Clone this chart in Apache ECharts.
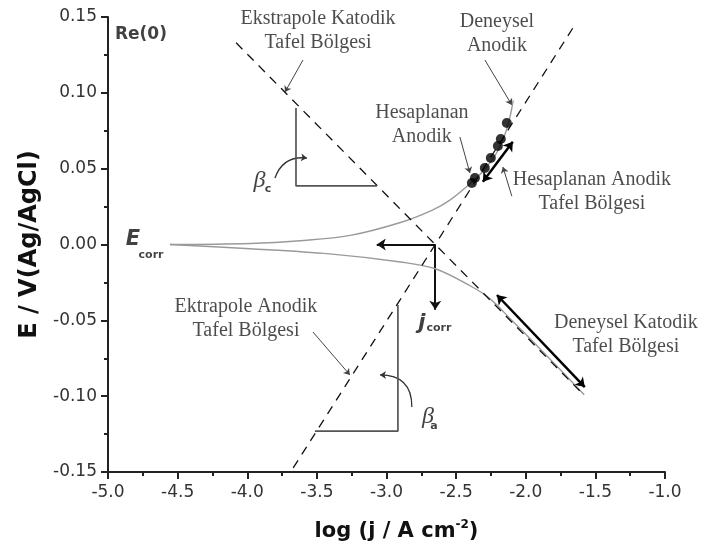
<!DOCTYPE html>
<html><head><meta charset="utf-8">
<script src="https://cdn.jsdelivr.net/npm/echarts@6/dist/echarts.min.js"></script>
<style>html,body{margin:0;padding:0;background:#fff}#c{width:703px;height:554px}</style>
</head><body><div id="c"></div>
<script>
// ---------- data ----------
const anodicBranch = [[-4.555,0.0],[-3.98,0.0007],[-3.62,0.0025],[-3.26,0.0060],[-2.90,0.0145],[-2.67,0.0227],[-2.545,0.0293],[-2.42,0.0386],[-2.30,0.049],[-2.20,0.062],[-2.13,0.078],[-2.09,0.095]];
const cathodicBranch = [[-4.555,0.0],[-3.98,-0.0028],[-3.41,-0.0062],[-2.90,-0.0115],[-2.65,-0.0160],[-2.40,-0.0272],[-2.26,-0.0355],[-2.10,-0.0500],[-1.90,-0.0685],[-1.58,-0.0990]];
const calculatedAnodicPoints = [[-2.387,0.0406],[-2.365,0.0439],[-2.294,0.0504],[-2.251,0.0570],[-2.200,0.0649],[-2.179,0.0696],[-2.136,0.0801]];
const cathodicTafelLine = [[-4.08,0.133],[-1.58,-0.0995]];
const anodicTafelLine = [[-3.67,-0.1473],[-1.66,0.1430]];
const betaCTriangle = [[-3.650,0.090],[-3.650,0.0386],[-3.069,0.0386]];
const betaATriangle = [[-3.514,-0.123],[-2.918,-0.123],[-2.918,-0.0399]];
const corrosionPoint = [-2.65, 0];
const ecorrArrowEnd = [-3.07, 0];
const jcorrArrowEnd = [-2.65, -0.043];
const anodicTafelRange = [[-2.308,0.0413],[-2.093,0.0677]];
const cathodicTafelRange = [[-2.207,-0.0333],[-1.576,-0.094]];
const pointerArrows = [
  [[-3.600,0.1216],[-3.729,0.1005]],
  [[-2.293,0.1216],[-2.100,0.0920]],
  [[-2.473,0.0709],[-2.401,0.0471]],
  [[-2.100,0.0319],[-2.164,0.0511]],
  [[-3.528,-0.0577],[-3.263,-0.0860]]
];
const betaCArc = [[-3.801,0.0438],[-3.571,0.0570]];
const betaAArc = [[-2.818,-0.1071],[-3.047,-0.0860]];

const annotationTexts = ['Ekstrapole Katodik\nTafel Bölgesi','Deneysel\nAnodik','Hesaplanan\nAnodik','Hesaplanan Anodik\nTafel Bölgesi','Deneysel Katodik\nTafel Bölgesi','Ektrapole Anodik\nTafel Bölgesi'];
const xTitle = ['log (j / A cm', '-2', ')'];
const yTitle = 'E / V(Ag/AgCl)';

// ---------- layout (anchor positions in data units) ----------
const annotationAnchors = [[-3.492,0.1411],[-2.207,0.1391],[-2.746,0.0788],[-1.525,0.0350],[-1.281,-0.0593],[-4.009,-0.0488]];

const serif = {fontFamily:'Liberation Serif', fontSize:20, lineHeight:24, color:'#1e1e1e'};
const sans = 'DejaVu Sans';

function lbl(pos, text, style) {
  return {value: pos, label: Object.assign({show:true, position:'inside', formatter:text, align:'center', verticalAlign:'middle'}, style)};
}
const labelItems = annotationTexts.map((t,i)=>lbl(annotationAnchors[i], t, serif));
labelItems.push(lbl([-4.95,0.1381],'Re(0)',{fontFamily:sans,fontWeight:'bold',fontSize:17,color:'#111',align:'left'}));
labelItems.push(lbl([-4.821,0.0030],'E',{fontFamily:sans,fontWeight:'bold',fontStyle:'italic',fontSize:21,color:'#111'}));
labelItems.push(lbl([-4.691,-0.0069],'corr',{fontFamily:sans,fontWeight:'bold',fontSize:11,color:'#111'}));
labelItems.push(lbl([-2.746,-0.0518],'j',{fontFamily:sans,fontWeight:'bold',fontStyle:'italic',fontSize:21,color:'#111'}));
labelItems.push(lbl([-2.624,-0.0551],'corr',{fontFamily:sans,fontWeight:'bold',fontSize:11,color:'#111'}));
labelItems.push(lbl([-3.913,0.0419],'β',{fontFamily:'Liberation Serif',fontStyle:'italic',fontSize:24,color:'#111'}));
labelItems.push(lbl([-3.851,0.0368],'c',{fontFamily:sans,fontWeight:'bold',fontSize:11,color:'#111'}));
labelItems.push(lbl([-2.703,-0.1134],'β',{fontFamily:'Liberation Serif',fontStyle:'italic',fontSize:24,color:'#111'}));
labelItems.push(lbl([-2.660,-0.1200],'a',{fontFamily:sans,fontWeight:'bold',fontSize:11,color:'#111'}));

function lineSeries(data, style, extra) {
  return Object.assign({type:'line', data:data, showSymbol:false, symbol:'none', silent:true, lineStyle:style}, extra||{});
}
function arrowSeries(list, style, symbols, size, curveness) {
  return {type:'lines', coordinateSystem:'cartesian2d', silent:true, symbol:symbols, symbolSize:size,
    lineStyle:Object.assign({curveness:curveness||0, opacity:1}, style),
    data:list.map(c=>({coords:c}))};
}

const axisCommon = {
  type:'value',
  axisLine:{show:true, onZero:false, lineStyle:{color:'#222', width:2}},
  axisTick:{show:true, inside:false, length:7, lineStyle:{color:'#222', width:2}},
  minorTick:{show:true, splitNumber:2, length:4, lineStyle:{color:'#222', width:2}},
  splitLine:{show:false}, minorSplitLine:{show:false}
};

const option = {
  animation:false,
  backgroundColor:'#fff',
  grid:{left:108, right:38, top:17, bottom:82},
  xAxis:Object.assign({}, axisCommon, {
    min:-5, max:-1, interval:0.5,
    axisLabel:{formatter:v=>v.toFixed(1), fontFamily:sans, fontSize:17, color:'#333', margin:12},
    name:'{a|'+xTitle[0]+'}{s|'+xTitle[1]+'}{a|'+xTitle[2]+'}', nameLocation:'middle', nameGap:47,
    nameTextStyle:{padding:[0,0,0,20], rich:{a:{fontFamily:sans,fontWeight:'bold',fontSize:21,lineHeight:26,color:'#111'},
                         s:{fontFamily:sans,fontWeight:'bold',fontSize:12,lineHeight:12,verticalAlign:'top',color:'#111'}}}
  }),
  yAxis:Object.assign({}, axisCommon, {
    min:-0.15, max:0.15, interval:0.05,
    axisLabel:{formatter:v=>v.toFixed(2), fontFamily:sans, fontSize:17, color:'#333', margin:11},
    name:yTitle, nameLocation:'middle', nameGap:63, nameRotate:90,
    nameTextStyle:{fontFamily:sans, fontWeight:'bold', fontSize:24, color:'#111'}
  }),
  series:[
    lineSeries(anodicBranch, {color:'#9a9a9a', width:1.4}, {smooth:0.35}),
    lineSeries(cathodicBranch, {color:'#9a9a9a', width:1.4}, {smooth:0.35}),
    lineSeries(cathodicTafelLine, {color:'#111', width:1.3, type:[9,7]}),
    lineSeries(anodicTafelLine, {color:'#111', width:1.3, type:[9,7]}),
    lineSeries(betaCTriangle, {color:'#555', width:1.7}),
    lineSeries(betaATriangle, {color:'#555', width:1.7}),
    {type:'scatter', data:calculatedAnodicPoints, symbol:'circle', symbolSize:10, itemStyle:{color:'#000'}, silent:true, z:5},
    arrowSeries(pointerArrows, {color:'#444', width:1}, ['none','arrow'], 6),
    arrowSeries([anodicTafelRange, cathodicTafelRange], {color:'#000', width:2.5}, ['arrow','arrow'], 9),
    arrowSeries([[corrosionPoint, ecorrArrowEnd],[corrosionPoint, jcorrArrowEnd]], {color:'#111', width:2}, ['none','arrow'], 9),
    arrowSeries([betaCArc], {color:'#333', width:1.3}, ['none','arrow'], 6, 0.4),
    arrowSeries([betaAArc], {color:'#333', width:1.3}, ['none','arrow'], 6, -0.5),
    {type:'scatter', data:labelItems, symbolSize:0, silent:true, z:10}
  ]
};
const chart = echarts.init(document.getElementById('c'), null, {renderer:'canvas'});
chart.setOption(option);
</script></body></html>
